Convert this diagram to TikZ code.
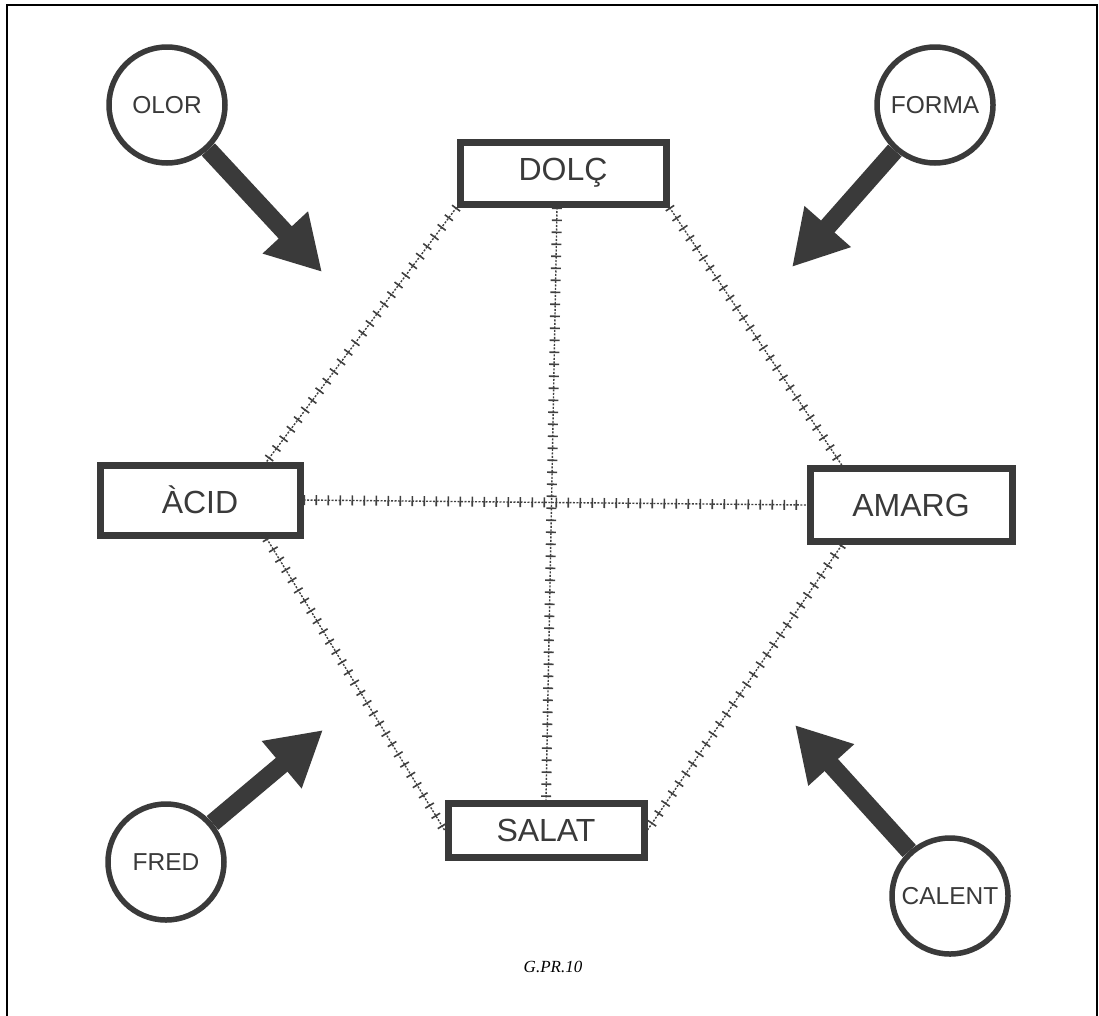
\documentclass[tikz,border=0pt]{standalone}
\usepackage{fontspec}
\setmainfont{Liberation Sans}
\newfontfamily\capfont{Liberation Serif}
\usetikzlibrary{arrows.meta,calc}
\definecolor{ink}{HTML}{3A3A3A}
\definecolor{railc}{HTML}{404040}
\begin{document}
\begin{tikzpicture}[x=1pt,y=-1pt,
  taste/.style={draw=ink, line width=7pt, fill=white, inner sep=0pt, text=ink,
    font=\fontsize{32}{34}\selectfont},
  sense/.style={circle, draw=ink, line width=5.5pt, fill=white, inner sep=0pt,
    minimum size=116pt, text=ink, font=\fontsize{24.5}{26}\selectfont},
  bigarrow/.style={draw=ink, line width=18pt, -{Triangle[length=54pt,width=58pt]}},
  rail/.style={draw=railc, line width=1.4pt, dash pattern=on 2pt off 1.5pt,
    postaction={draw=railc, line width=10pt, dash pattern=on 1.6pt off 10.4pt}}]
\useasboundingbox (0,0) rectangle (1099,1015);
\fill[white] (0,0) rectangle (1099,1015);
% frame
\draw[line width=2pt, black] (7,1020) -- (7,5) -- (1097,5) -- (1097,1020);

\coordinate (dolcc) at (563,173);
\coordinate (acidc) at (200,500);
\coordinate (amargc) at (911,505);
\coordinate (salatc) at (546,830);

% boxes
\node[taste, minimum width=206pt, minimum height=62pt] (dolc) at (dolcc) {DOLÇ};
\node[taste, minimum width=200pt, minimum height=70pt] (acid) at (acidc) {ÀCID};
\node[taste, minimum width=202pt, minimum height=73pt] (amarg) at (amargc) {AMARG};
\node[taste, minimum width=196pt, minimum height=54pt] (salat) at (salatc) {SALAT};

% rails
\draw[rail] (dolc.south west) -- (acid.30);
\draw[rail] (dolc.south east) -- (amarg.150);
\draw[rail] ($(dolc.south)+(-6,0)$) -- (salat.north);
\draw[rail] (acid.east) -- (amarg.west);
\draw[rail] (acid.-30) -- (salat.west);
\draw[rail] (amarg.210) -- (salat.east);

% boxes again, on top of the rail ends
\node[taste, minimum width=206pt, minimum height=62pt] at (dolcc) {DOLÇ};
\node[taste, minimum width=200pt, minimum height=70pt] at (acidc) {ÀCID};
\node[taste, minimum width=202pt, minimum height=73pt] at (amargc) {AMARG};
\node[taste, minimum width=196pt, minimum height=54pt] at (salatc) {SALAT};

% senses
\node[sense] (olor) at (167,105) {OLOR};
\node[sense] (forma) at (935,105) {FORMA};
\node[sense] (fred) at (166,862) {FRED};
\node[sense] (calent) at (950,896) {CALENT};

\coordinate (tolor) at (322,272);
\coordinate (tforma) at (792,267);
\coordinate (tfred) at (323,730);
\coordinate (tcalent) at (795,725);

\draw[bigarrow] (olor) -- (tolor);
\draw[bigarrow] (forma) -- (tforma);
\draw[bigarrow] (fred) -- (tfred);
\draw[bigarrow] (calent) -- (tcalent);

\node[font=\capfont\itshape\fontsize{17}{19}\selectfont] (cap) at (553,967) {G.PR.10};
\end{tikzpicture}
\end{document}
